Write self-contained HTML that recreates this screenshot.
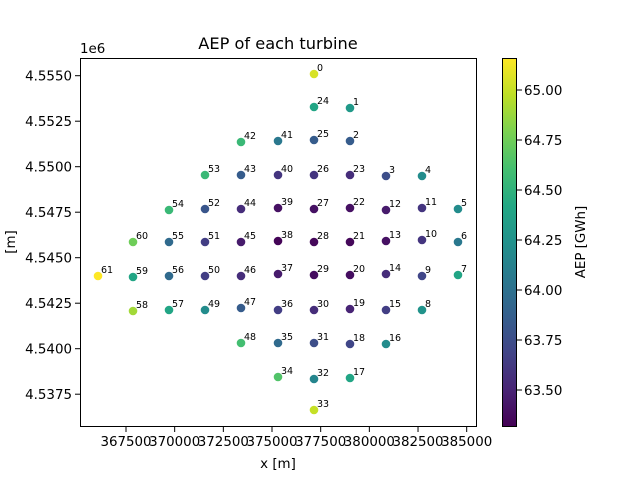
<!DOCTYPE html>
<html><head><meta charset="utf-8"><style>
html,body{margin:0;padding:0;background:#fff;}
svg{display:block;font-family:"DejaVu Sans","Liberation Sans",sans-serif;}
</style></head><body>
<svg id="chart" width="640" height="480" viewBox="0 0 640 480">
<text x="278" y="49" font-size="16.2" text-anchor="middle">AEP of each turbine</text>
<text x="80" y="53" font-size="13.4">1e6</text>
<text x="15" y="242" font-size="13.4" text-anchor="middle" transform="rotate(-90 15 242)">[m]</text>
<text x="278" y="468" font-size="13.4" text-anchor="middle">x [m]</text>
<g id="ticks"></g>
<g id="marks"></g>
<rect x="80.5" y="58.5" width="396" height="368" fill="none" stroke="#000" stroke-width="1"/>
<defs><linearGradient id="vir" x1="0" y1="1" x2="0" y2="0">
<stop offset="0" stop-color="#440154"/><stop offset="0.1" stop-color="#482475"/><stop offset="0.2" stop-color="#414487"/><stop offset="0.3" stop-color="#355f8d"/><stop offset="0.4" stop-color="#2a788e"/><stop offset="0.5" stop-color="#21918c"/><stop offset="0.6" stop-color="#22a884"/><stop offset="0.7" stop-color="#44bf70"/><stop offset="0.8" stop-color="#7ad151"/><stop offset="0.9" stop-color="#bddf26"/><stop offset="1" stop-color="#fde725"/>
</linearGradient></defs>
<rect x="502.5" y="58.5" width="14" height="368" fill="url(#vir)" stroke="#000" stroke-width="1"/>
<g id="cbticks"></g>
<text x="585" y="242" font-size="13.4" text-anchor="middle" transform="rotate(-90 585 242)">AEP [GWh]</text>
</svg>
<script>
const ids=[0,1,2,3,4,5,6,7,8,9,10,11,12,13,14,15,16,17,18,19,20,21,22,23,24,25,26,27,28,29,30,31,32,33,34,35,36,37,38,39,40,41,42,43,44,45,46,47,48,49,50,51,52,53,54,55,56,57,58,59,60,61];
const xs=[377157,379006,379006,380855,382704,384553,384553,384553,382704,382704,382704,382704,380855,380855,380855,380855,380855,379006,379006,379006,379006,379006,379006,379006,377157,377157,377157,377157,377157,377157,377157,377157,377157,377157,375308,375308,375308,375308,375308,375308,375308,375308,373407,373407,373407,373407,373407,373407,373407,371558,371558,371558,371558,371558,369709,369709,369709,369709,367860,367860,367860,366062];
const ys=[4555093,4553225,4551412,4549489,4549489,4547676,4545862,4544049,4542126,4543994,4545972,4547731,4547621,4545917,4544104,4542126,4540258,4538390,4540258,4542181,4544049,4545862,4547731,4549544,4553280,4551467,4549544,4547676,4545862,4544049,4542126,4540313,4538335,4536632,4538445,4540313,4542126,4544104,4545917,4547731,4549544,4551412,4551357,4549544,4547676,4545862,4543994,4542236,4540313,4542126,4543994,4545862,4547676,4549544,4547621,4545862,4543994,4542126,4542071,4543939,4545862,4543994];
const aep=[65.05,64.3,63.85,63.75,64.2,64.2,64.05,64.4,64.25,63.7,63.6,63.6,63.45,63.4,63.55,63.65,64.2,64.4,63.7,63.5,63.38,63.35,63.4,63.55,64.4,63.85,63.6,63.4,63.35,63.38,63.55,63.75,64.15,65.0,64.65,63.95,63.65,63.45,63.33,63.4,63.6,64.05,64.55,63.85,63.55,63.45,63.55,63.85,64.6,64.2,63.65,63.65,63.8,64.55,64.55,63.95,63.95,64.4,64.9,64.4,64.75,65.16];
const xTicks=[367500,370000,372500,375000,377500,380000,382500,385000];
const yTicks=[4555000,4552500,4550000,4547500,4545000,4542500,4540000,4537500];
const cTicks=[63.5,63.75,64.0,64.25,64.5,64.75,65.0];
const cMin=63.315,cMax=65.16;
const NS='http://www.w3.org/2000/svg';
const X=v=>126+(v-367500)/2500*48.67;
const Y=v=>75.7+(4555000-v)/2500*45.5;
const CY=v=>427-(v-cMin)/(cMax-cMin)*369;
const vir=['#440154','#482475','#414487','#355f8d','#2a788e','#21918c','#22a884','#44bf70','#7ad151','#bddf26','#fde725'];
function hx(h){return [1,3,5].map(i=>parseInt(h.substr(i,2),16));}
function color(v){let t=Math.max(0,Math.min(1,(v-cMin)/(cMax-cMin)))*10;let i=Math.min(9,Math.floor(t));let f=t-i;const a=hx(vir[i]),b=hx(vir[i+1]);return 'rgb('+a.map((c,k)=>Math.round(c+(b[k]-c)*f)).join(',')+')';}
function mk(tag,attrs,parent,txt){const e=document.createElementNS(NS,tag);for(const k in attrs)e.setAttribute(k,attrs[k]);if(txt!==undefined)e.textContent=txt;parent.appendChild(e);return e;}
const tg=document.getElementById('ticks');
xTicks.forEach(v=>{
 const l=mk('line',{x1:X(v),x2:X(v),y1:427,y2:432,stroke:'#000'},tg);
 
 
 const t=mk('text',{x:X(v),y:446,'font-size':13.4,'text-anchor':'middle'},tg,String(v));
 
 
});
yTicks.forEach(v=>{
 const l=mk('line',{x1:75,x2:80,y1:Y(v),y2:Y(v),stroke:'#000'},tg);
 
 
 const t=mk('text',{x:72,y:Y(v)+5,'font-size':13.4,'text-anchor':'end'},tg,(v/1e6).toFixed(4));
 
 
});
const cg=document.getElementById('cbticks');
cTicks.forEach(v=>{
 const l=mk('line',{x1:517,x2:522,y1:CY(v),y2:CY(v),stroke:'#000'},cg);
 
 
 const t=mk('text',{x:524,y:CY(v)+5,'font-size':13.4},cg,v.toFixed(2));
 
 
});
const mg=document.getElementById('marks');
ids.forEach((id,i)=>{
 const c=mk('circle',{cx:X(xs[i]),cy:Y(ys[i]),r:4.3,fill:color(aep[i])},mg);
 
 
 const t=mk('text',{x:X(xs[i])+3,y:Y(ys[i])-3,'font-size':9.5},mg,String(id));
 
 
});
</script>
</body></html>
